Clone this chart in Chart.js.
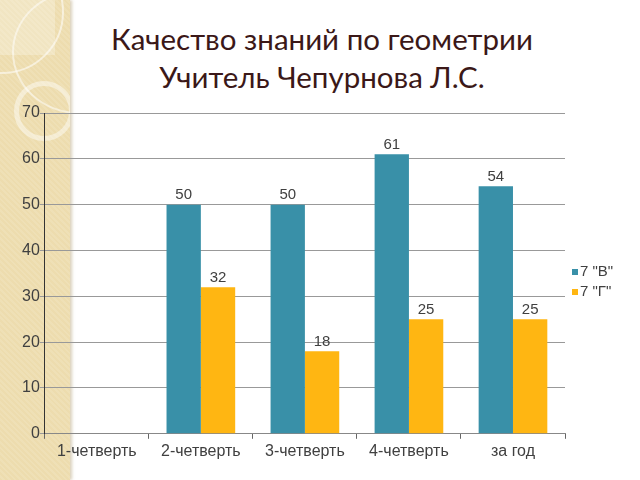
<!DOCTYPE html>
<html lang="ru">
<head>
    <meta charset="UTF-8">
    <title>Качество знаний по геометрии</title>
    <script src="https://cdn.jsdelivr.net/npm/chart.js"></script>
    <style>
        html, body { margin: 0; padding: 0; background: #fff; }
        #wrap { position: relative; width: 640px; height: 480px; overflow: hidden; }
        #stripe {
            position: absolute; left: 0; top: 0; width: 70px; height: 480px;
            background: repeating-linear-gradient(45deg, #eddcae 0 2px, #efe0b6 2px 4px);
            box-shadow: 2px 0 3px rgba(150, 120, 60, 0.35);
        }
        .ring { position: absolute; border-radius: 50%; }
        #stripe-clip { position: absolute; left: 0; top: 0; width: 70px; height: 480px; overflow: hidden; }
        #title {
            position: absolute; left: 0; top: 20px; width: 644px; text-align: center;
            font-family: Lato, "Noto Sans", sans-serif; font-size: 29.5px; line-height: 38px;
            color: #3b1818;
        }
        canvas { position: absolute; left: 0; top: 0; }
    </style>
</head>
<body>
<div id="wrap">
    <div id="stripe"></div>
    <div id="stripe-clip">
        <div style="position:absolute; left:0; top:0; width:55px; height:55px; background:rgba(255,255,255,0.25);"></div>
        <div class="ring" style="left:14px; top:81px; width:50px; height:50px; border:5px solid rgba(255,255,255,0.45);"></div>
        <div class="ring" style="left:-60px; top:-50px; width:120px; height:120px; border:2px solid rgba(255,255,255,0.55);"></div>
        <div class="ring" style="left:12px; top:-10px; width:130px; height:120px; border:2px solid rgba(255,255,255,0.5);"></div>
    </div>
    <div id="title">Качество знаний по геометрии<br>Учитель Чепурнова Л.С.</div>
    <canvas id="chart" width="640" height="480"></canvas>
</div>

<script>
    // Data
    const categories = ['1-четверть', '2-четверть', '3-четверть', '4-четверть', 'за год'];
    const classV = [null, 50, 50, 61, 54];
    const classG = [null, 32, 18, 25, 25];
    const seriesNames = ['7 "В"', '7 "Г"'];
    const yTicks = [0, 10, 20, 30, 40, 50, 60, 70];

    const FONT = '"Liberation Sans", Arial, sans-serif';

    // Value labels above bars
    const valueLabels = {
        id: 'valueLabels',
        afterDatasetsDraw(chart) {
            const ctx = chart.ctx;
            ctx.save();
            ctx.font = '15px ' + FONT;
            ctx.fillStyle = '#404040';
            ctx.textAlign = 'center';
            ctx.textBaseline = 'bottom';
            chart.data.datasets.forEach((ds, i) => {
                chart.getDatasetMeta(i).data.forEach((bar, j) => {
                    if (ds.data[j] === null) return;
                    ctx.fillText(ds.data[j], bar.x, bar.y - 2);
                });
            });
            ctx.restore();
        }
    };

    // Small legend to the right of the plot
    const sideLegend = {
        id: 'sideLegend',
        afterDraw(chart) {
            const ctx = chart.ctx;
            const area = chart.chartArea;
            ctx.save();
            ctx.font = '15px ' + FONT;
            ctx.textBaseline = 'middle';
            chart.data.datasets.forEach((ds, i) => {
                const y = 272 + i * 20;
                const x = area.right + 7;
                ctx.fillStyle = ds.backgroundColor;
                ctx.fillRect(x, y - 3, 6, 6);
                ctx.fillStyle = '#404040';
                ctx.fillText(ds.label, x + 8, y);
            });
            ctx.restore();
        }
    };

    const ctx = document.getElementById('chart').getContext('2d');
    new Chart(ctx, {
        type: 'bar',
        data: {
            labels: categories,
            datasets: [
                { label: seriesNames[0], data: classV, backgroundColor: '#3990a8' },
                { label: seriesNames[1], data: classG, backgroundColor: '#ffb612' }
            ]
        },
        options: {
            responsive: false,
            animation: false,
            layout: { padding: { left: 22, right: 75, top: 113, bottom: 16 } },
            datasets: { bar: { barPercentage: 1, categoryPercentage: 0.66 } },
            plugins: {
                legend: { display: false },
                tooltip: { enabled: false }
            },
            scales: {
                x: {
                    grid: { drawOnChartArea: false, tickLength: 5, color: '#666' },
                    border: { color: '#888' },
                    ticks: { color: '#404040', padding: 3, font: { family: FONT, size: 16 } }
                },
                y: {
                    min: 0,
                    max: yTicks[yTicks.length - 1],
                    afterBuildTicks(scale) { scale.ticks = yTicks.map(v => ({ value: v })); },
                    grid: { color: '#999', tickLength: 5 },
                    border: { color: '#333' },
                    ticks: { color: '#404040', padding: 0, font: { family: FONT, size: 16 } }
                }
            }
        },
        plugins: [valueLabels, sideLegend]
    });
</script>
</body>
</html>
